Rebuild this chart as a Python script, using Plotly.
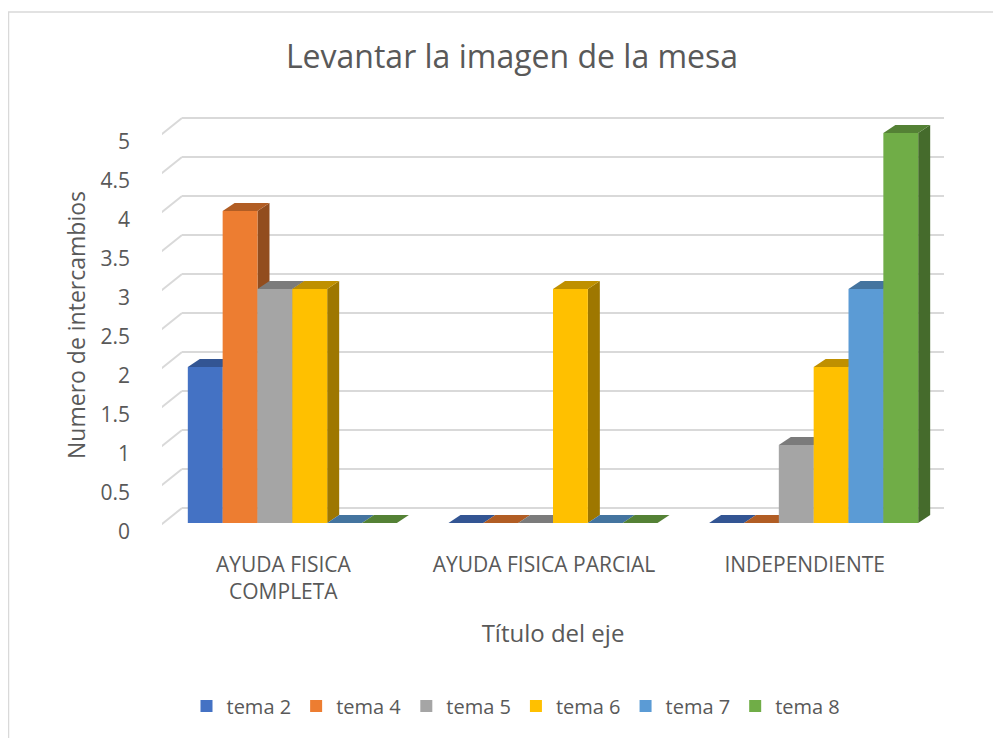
import plotly.graph_objects as go

# ---- data ----
categories = ["AYUDA FISICA<br>COMPLETA", "AYUDA FISICA PARCIAL", "INDEPENDIENTE"]
series_names = ["tema 2", "tema 4", "tema 5", "tema 6", "tema 7", "tema 8"]
tema2 = [2, 0, 0]
tema4 = [4, 0, 0]
tema5 = [3, 0, 1]
tema6 = [3, 3, 2]
tema7 = [0, 0, 3]
tema8 = [0, 0, 5]
series_values = [tema2, tema4, tema5, tema6, tema7, tema8]
y_ticks = [0, 0.5, 1, 1.5, 2, 2.5, 3, 3.5, 4, 4.5, 5]
y_tick_text = ["0", "0.5", "1", "1.5", "2", "2.5", "3", "3.5", "4", "4.5", "5"]

# ---- style ----
colors = ["#4472C4", "#ED7D31", "#A5A5A5", "#FFC000", "#5B9BD5", "#70AD47"]
TEXT = "#595959"
GRID = "#D9D9D9"
FONT = "Open Sans"

OFF = 8                                   # page body margin
W, H = 1001 - OFF, 738 - OFF
L, R, T, B = 162 - OFF, 944 - OFF, 100 - OFF, 550 - OFF   # plot area pixels
px_per_cat = (R - L) / 3.0
y0_px = 523 - OFF                         # pixel of value 0 on bar front
px_per_unit = 78.0
y_min = (y0_px - B) / px_per_unit
y_max = (y0_px - T) / px_per_unit

def shade(hexc, f):
    hexc = hexc.lstrip("#")
    r, g, b = (int(hexc[i:i + 2], 16) for i in (0, 2, 4))
    return "rgb(%d,%d,%d)" % (r * f, g * f, b * f)

bargap = 0.198
n = len(series_names)
bw = (1 - bargap) / n
# bar depth (projection)
ddx = 12 / px_per_cat
ddy = 8 / px_per_unit
# wall depth
wall_dx_back = (182 - OFF - L) / px_per_cat - 0.5
wall_dx_front = (152 - OFF - L) / px_per_cat - 0.5
wall_right = (965 - OFF - L) / px_per_cat - 0.5
wall_up = 15 / px_per_unit
floor_down = 9 / px_per_unit

fig = go.Figure()
xs = list(range(len(categories)))
for name, vals, c in zip(series_names, series_values, colors):
    fig.add_trace(go.Bar(x=xs, y=vals, name=name, marker=dict(color=c, line=dict(width=0))))
# invisible trace to carry the label axis
fig.add_trace(go.Scatter(x=[None], y=[None], yaxis="y2", showlegend=False, hoverinfo="skip"))

shapes = []
# gridlines: back wall + side wall diagonal
for v in y_ticks:
    shapes.append(dict(type="line", xref="x", yref="y", layer="below",
                       x0=wall_dx_back, x1=wall_right, y0=v + wall_up, y1=v + wall_up,
                       line=dict(color=GRID, width=2)))
    shapes.append(dict(type="line", xref="x", yref="y", layer="below",
                       x0=wall_dx_front, x1=wall_dx_back, y0=v - floor_down, y1=v + wall_up,
                       line=dict(color=GRID, width=2)))
# 3D faces (top + right side) for every bar
for i, (vals, c) in enumerate(zip(series_values, colors)):
    for ci, v in enumerate(vals):
        x0 = ci + (i - n / 2) * bw
        x1 = x0 + bw
        top = "M %f,%f L %f,%f L %f,%f L %f,%f Z" % (x0, v, x1, v, x1 + ddx, v + ddy, x0 + ddx, v + ddy)
        side = "M %f,%f L %f,%f L %f,%f L %f,%f Z" % (x1, 0, x1, v, x1 + ddx, v + ddy, x1 + ddx, ddy)
        shapes.append(dict(type="path", path=side, xref="x", yref="y", layer="below",
                           fillcolor=shade(c, 0.62), line=dict(width=0)))
        shapes.append(dict(type="path", path=top, xref="x", yref="y", layer="below",
                           fillcolor=shade(c, 0.75), line=dict(width=0)))
# chart border
pw, ph = R - L, B - T
shapes.append(dict(type="rect", xref="paper", yref="paper",
                   x0=(0.5 - L) / pw, x1=(1010 - L) / pw, y0=(B - 745) / ph, y1=(B - 4) / ph,
                   line=dict(color=GRID, width=1.5), fillcolor="rgba(0,0,0,0)", layer="below"))

fig.update_layout(
    width=W, height=H,
    margin=dict(l=L, r=W - R, t=T, b=H - B),
    paper_bgcolor="white", plot_bgcolor="rgba(0,0,0,0)",
    font=dict(family=FONT, color=TEXT, size=20),
    title=dict(text="Levantar la imagen de la mesa", x=(512 - OFF) / W, xanchor="center",
               y=1 - (57 - OFF) / H, yanchor="middle", font=dict(size=32, color=TEXT)),
    barmode="group", bargap=bargap, bargroupgap=0,
    shapes=shapes,
    showlegend=True,
    legend=dict(orientation="h", x=(516 - OFF - L) / pw, xanchor="center",
                y=(B - (706 - OFF)) / ph, yanchor="middle", font=dict(size=20, color=TEXT),
                traceorder="normal"),
    xaxis=dict(range=[-0.5, 2.5], tickvals=xs, ticktext=categories, showgrid=False,
               zeroline=False, showline=False, ticks="", ticklabelshift=-9,
               tickfont=dict(size=21, color=TEXT),
               title=dict(text="Título del eje", font=dict(size=24, color=TEXT), standoff=20)),
    yaxis=dict(range=[y_min, y_max], showgrid=False, zeroline=False, showline=False,
               showticklabels=False, ticks="",
               title=dict(text="Numero de intercambios", font=dict(size=23, color=TEXT), standoff=68)),
    yaxis2=dict(overlaying="y", side="left", range=[y_min + floor_down, y_max + floor_down],
                tickvals=y_ticks, ticktext=y_tick_text, showgrid=False, zeroline=False,
                showline=False, ticks="", ticklabelstandoff=31,
                tickfont=dict(size=21, color=TEXT)),
)

fig.write_html("out.html")
